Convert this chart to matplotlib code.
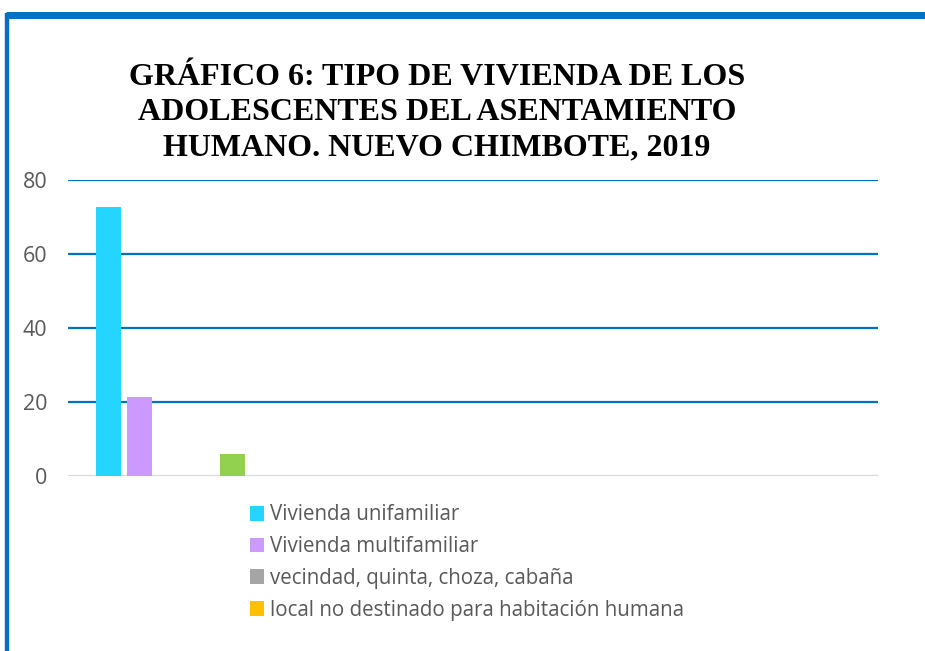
import matplotlib.pyplot as plt
from matplotlib.lines import Line2D

series = ["Vivienda unifamiliar", "Vivienda multifamiliar",
          "vecindad, quinta, choza, cabaña",
          "local no destinado para habitación humana", ""]
values = [72.7, 21.3, 0, 0, 6.0]
colors = ["#23D5FF", "#CC99FF", "#A5A5A5", "#FFC000", "#92D050"]
yticks = [0, 20, 40, 60, 80]

fig = plt.figure(figsize=(9.25, 6.51), dpi=100)
ax = fig.add_axes([68/925, 1-476/651, 810/925, 296/651])

bars = []
for i, (v, c) in enumerate(zip(values, colors)):
    bars.append(ax.bar(i, v, width=25/31, color=c, zorder=3))

ax.set_xlim(-40.5/31, -40.5/31 + 810/31)
ax.set_ylim(0, 80)
ax.set_yticks(yticks)
ax.set_xticks([])
ax.tick_params(axis='y', length=0, pad=15, labelsize=15.5, labelcolor="#595959")
for lab in ax.get_yticklabels():
    lab.set_family("Open Sans")
for y in yticks[1:]:
    ax.axhline(y, color="#0070C0", lw=1.6, zorder=1)
ax.axhline(0, color="#D9D9D9", lw=1.6, zorder=2)
for s in ax.spines.values():
    s.set_visible(False)

fig.text(437/925, 1-63/651,
         "GRÁFICO 6: TIPO DE VIVIENDA DE LOS\nADOLESCENTES DEL ASENTAMIENTO\nHUMANO. NUEVO CHIMBOTE, 2019",
         ha='center', va='top', fontsize=23, fontweight='bold',
         family='Liberation Serif', linespacing=1.29)

leg = fig.legend([b[0] for b in bars[:4]], series[:4],
                 loc='upper left', bbox_to_anchor=(231/925, 1-486/651),
                 frameon=False, handlelength=0.72, handleheight=0.72,
                 handletextpad=0.3, labelspacing=0.52,
                 prop={'family': 'Open Sans', 'size': 14.8})
for t in leg.get_texts():
    t.set_color("#595959")

# blue frame
fig.add_artist(Line2D([6/925, 1], [1-15/651, 1-15/651], color="#0070C0", lw=5,
                      transform=fig.transFigure, solid_capstyle='butt'))
fig.add_artist(Line2D([6.5/925, 6.5/925], [0, 1-13/651], color="#0070C0", lw=3.2,
                      transform=fig.transFigure, solid_capstyle='butt'))

fig.savefig("out.png", dpi=100)
